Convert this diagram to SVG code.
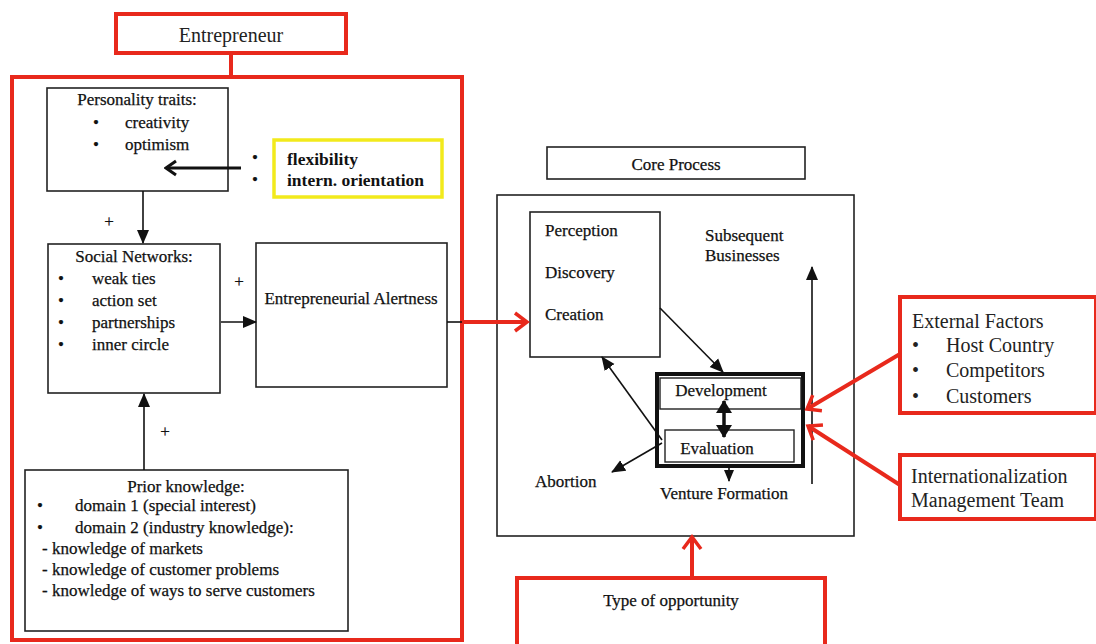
<svg xmlns="http://www.w3.org/2000/svg" width="1096" height="644" viewBox="0 0 1096 644">
<defs>
<marker id="tri" markerUnits="userSpaceOnUse" markerWidth="14" markerHeight="14" viewBox="0 0 14 14" refX="13" refY="7" orient="auto"><path d="M0,1 L14,7 L0,13 Z" fill="#111"/></marker>
<marker id="triS" markerUnits="userSpaceOnUse" markerWidth="12" markerHeight="12" viewBox="0 0 12 12" refX="11" refY="6" orient="auto"><path d="M0,1 L12,6 L0,11 Z" fill="#111"/></marker>
<marker id="triD" markerUnits="userSpaceOnUse" markerWidth="14" markerHeight="16" viewBox="0 0 14 16" refX="12" refY="8" orient="auto-start-reverse"><path d="M0,0 L13,8 L0,16 Z" fill="#111"/></marker>
<marker id="chevB" markerUnits="userSpaceOnUse" markerWidth="20" markerHeight="20" viewBox="0 0 20 20" refX="18" refY="10" orient="auto"><path d="M8,3 L18,10 L8,17" fill="none" stroke="#111" stroke-width="3"/></marker>
<marker id="chevR" markerUnits="userSpaceOnUse" markerWidth="24" markerHeight="24" viewBox="0 0 24 24" refX="21" refY="12" orient="auto"><path d="M9,3 L21,12 L9,21" fill="none" stroke="#e8291c" stroke-width="3.5"/></marker>
</defs>
<style>
.t{font-family:"Liberation Serif","Times New Roman",serif;fill:#111;stroke:#111;stroke-width:0.25;font-size:17px}
.tb{font-family:"Liberation Serif","Times New Roman",serif;fill:#111;font-size:17.5px;font-weight:bold}
.tr{font-family:"Liberation Serif","Times New Roman",serif;fill:#222;font-size:20px}
.box{fill:#fff;stroke:#222;stroke-width:1.6}
.frame{fill:none;stroke:#222;stroke-width:1.6}
.red{fill:#fff;stroke:#e8291c;stroke-width:4}
.ln{fill:none;stroke:#111;stroke-width:1.6}
.rl{fill:none;stroke:#e8291c;stroke-width:4}
</style>
<rect width="1096" height="644" fill="#fff"/>

<g id="entrepreneur">
<rect class="red" x="116" y="14" width="230" height="39"/>
<text class="tr" x="231" y="42" text-anchor="middle">Entrepreneur</text>
</g>
<g id="entrepreneur-frame">
<rect class="rl" x="12" y="77" width="450" height="563"/>
</g>

<g id="personality">
<rect class="box" x="47" y="88" width="181" height="103"/>
<text class="t" x="137" y="105" text-anchor="middle">Personality traits:</text>
<text class="t" x="93" y="128">•</text><text class="t" x="125" y="128">creativity</text>
<text class="t" x="93" y="150">•</text><text class="t" x="125" y="150">optimism</text>
</g>

<g id="flexibility">
<text class="t" x="252" y="163">•</text>
<text class="t" x="252" y="185">•</text>
<rect x="274" y="140" width="168" height="57" fill="#fff" stroke="#f2ea1c" stroke-width="3.5"/>
<text class="tb" x="287" y="165">flexibility</text>
<text class="tb" x="287" y="186">intern. orientation</text>
</g>

<g id="social">
<rect class="box" x="48" y="244" width="172" height="149"/>
<text class="t" x="134" y="262" text-anchor="middle">Social Networks:</text>
<text class="t" x="58" y="284">•</text><text class="t" x="92" y="284">weak ties</text>
<text class="t" x="58" y="306">•</text><text class="t" x="92" y="306">action set</text>
<text class="t" x="58" y="328">•</text><text class="t" x="92" y="328">partnerships</text>
<text class="t" x="58" y="350">•</text><text class="t" x="92" y="350">inner circle</text>
</g>
<text class="t" x="109" y="227" text-anchor="middle">+</text>
<text class="t" x="239" y="287" text-anchor="middle">+</text>
<text class="t" x="165" y="437" text-anchor="middle">+</text>

<g id="alertness">
<rect class="box" x="256" y="243" width="191" height="144"/>
<text class="t" x="351" y="304" text-anchor="middle" font-size="17.5">Entrepreneurial Alertness</text>
</g>

<g id="prior">
<rect class="box" x="25" y="470" width="323" height="161"/>
<text class="t" x="186" y="492" text-anchor="middle">Prior knowledge:</text>
<text class="t" x="37" y="511">•</text><text class="t" x="75" y="511">domain 1 (special interest)</text>
<text class="t" x="37" y="533">•</text><text class="t" x="75" y="533">domain 2 (industry knowledge):</text>
<text class="t" x="42" y="554">- knowledge of markets</text>
<text class="t" x="42" y="575">- knowledge of customer problems</text>
<text class="t" x="42" y="596">- knowledge of ways to serve customers</text>
</g>

<g id="core-label">
<rect class="box" x="547" y="147" width="258" height="32"/>
<text class="t" x="676" y="170" text-anchor="middle">Core Process</text>
</g>

<g id="core">
<rect class="frame" x="497" y="195" width="357" height="341"/>
</g>

<g id="perception">
<rect class="box" x="530" y="212" width="130" height="145"/>
<text class="t" x="545" y="236">Perception</text>
<text class="t" x="545" y="278">Discovery</text>
<text class="t" x="545" y="320">Creation</text>
</g>

<g id="subsequent">
<text class="t" x="705" y="241">Subsequent</text>
<text class="t" x="705" y="261">Businesses</text>
</g>

<g id="dev-eval">
<rect x="657" y="374" width="146" height="92" fill="#fff" stroke="#111" stroke-width="4"/>
<rect x="660" y="378" width="141" height="31" fill="none" stroke="#222" stroke-width="1.4"/>
<text class="t" x="721" y="396" text-anchor="middle">Development</text>
<rect x="665" y="430" width="129" height="32" fill="#fff" stroke="#222" stroke-width="1.4"/>
<text class="t" x="717" y="454" text-anchor="middle">Evaluation</text>
</g>

<g id="abortion"><text class="t" x="535" y="487">Abortion</text></g>
<g id="venture"><text class="t" x="724" y="499" text-anchor="middle">Venture Formation</text></g>

<g id="external">
<rect class="red" x="900" y="297" width="196" height="116"/>
<text class="tr" x="912" y="328">External Factors</text>
<text class="tr" x="912" y="352">•</text><text class="tr" x="946" y="352">Host Country</text>
<text class="tr" x="912" y="377">•</text><text class="tr" x="946" y="377">Competitors</text>
<text class="tr" x="912" y="403">•</text><text class="tr" x="946" y="403">Customers</text>
</g>

<g id="intl">
<rect class="red" x="900" y="455" width="196" height="64"/>
<text class="tr" x="911" y="483">Internationalization</text>
<text class="tr" x="911" y="507">Management Team</text>
</g>

<g id="opportunity">
<rect class="red" x="517" y="578" width="308" height="70"/>
<text class="t" x="671" y="606" text-anchor="middle">Type of opportunity</text>
</g>

<g id="connectors">
<line class="rl" x1="231" y1="53" x2="231" y2="77"/>
<line x1="241" y1="168" x2="166" y2="168" stroke="#111" stroke-width="3" marker-end="url(#chevB)"/>
<line class="ln" x1="143" y1="191" x2="143" y2="243" marker-end="url(#tri)"/>
<line class="ln" x1="221" y1="322" x2="256" y2="322" marker-end="url(#tri)"/>
<line class="ln" x1="144" y1="470" x2="144" y2="394" marker-end="url(#tri)"/>
<line class="ln" x1="447" y1="322" x2="462" y2="322"/>
<line class="rl" x1="462" y1="322" x2="527" y2="322" stroke-width="3.5" marker-end="url(#chevR)"/>
<line class="ln" x1="660" y1="308" x2="723" y2="372" marker-end="url(#tri)"/>
<line class="ln" x1="662" y1="440" x2="602" y2="357" marker-end="url(#tri)"/>
<line class="ln" x1="662" y1="443" x2="612" y2="472" marker-end="url(#tri)"/>
<line class="ln" x1="729" y1="467" x2="729" y2="481" stroke-width="2" marker-end="url(#triS)"/>
<line class="ln" x1="812" y1="484" x2="812" y2="267" marker-end="url(#tri)"/>
<line x1="724" y1="401" x2="724" y2="437" stroke="#111" stroke-width="3.5" marker-start="url(#triD)" marker-end="url(#triD)"/>
<line class="rl" x1="900" y1="354" x2="807" y2="409" stroke-width="3.5" marker-end="url(#chevR)"/>
<line class="rl" x1="900" y1="485" x2="808" y2="426" stroke-width="3.5" marker-end="url(#chevR)"/>
<line class="rl" x1="692" y1="578" x2="692" y2="537" stroke-width="3.5" marker-end="url(#chevR)"/>
</g>
</svg>
